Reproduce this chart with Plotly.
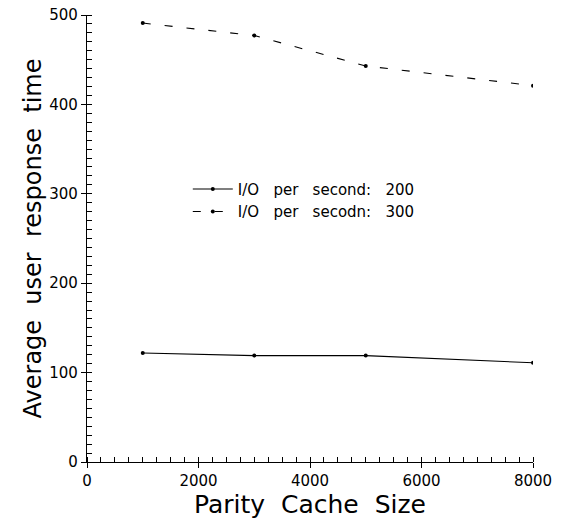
import plotly.graph_objects as go

cache_size = [1000, 3000, 5000, 8000]
io200 = [122, 119, 119, 111]
io300 = [491, 477, 443, 421]
series_names = ["I/O per second: 200", "I/O per secodn: 300"]
x_title = "Parity Cache Size"
y_title = "Average user response time"

S = "\u00a0"
def wide(t, n=2):
    return t.replace(" ", S * n)

fig = go.Figure()
fig.add_trace(go.Scatter(x=cache_size, y=io200, mode="lines+markers", name=wide(series_names[0], 3),
                         line=dict(color="black", width=1.1),
                         marker=dict(size=4, color="black")))
fig.add_trace(go.Scatter(x=cache_size, y=io300, mode="lines+markers", name=wide(series_names[1], 3),
                         line=dict(color="black", width=1.1, dash="8px,14px"),
                         marker=dict(size=4, color="black")))

font = "DejaVu Sans, Verdana, sans-serif"
fig.update_layout(
    width=563, height=520,
    margin=dict(l=87, r=30, t=15, b=58),
    paper_bgcolor="white", plot_bgcolor="white",
    font=dict(family=font, color="black"),
    showlegend=True,
    legend=dict(x=0.226, y=0.647, xanchor="left", yanchor="top",
                bgcolor="rgba(0,0,0,0)", font=dict(size=15, color="black"),
                tracegroupgap=0, itemwidth=40),
    xaxis=dict(range=[0, 8000], tickvals=[0, 2000, 4000, 6000, 8000], automargin=False,
               showgrid=False, zeroline=False, showline=True, linecolor="black", linewidth=1.2,
               ticks="outside", ticklen=5, tickcolor="black",
               minor=dict(dtick=250, ticks="inside", ticklen=5, tickcolor="black", showgrid=False),
               tickfont=dict(size=15, color="black"),
               title=dict(text=wide(x_title), font=dict(size=25, color="black"), standoff=0)),
    yaxis=dict(range=[0, 500], tickvals=[0, 100, 200, 300, 400, 500], automargin=False,
               showgrid=False, zeroline=False, showline=True, linecolor="black", linewidth=1.2,
               ticks="outside", ticklen=5, tickcolor="black",
               minor=dict(dtick=10, ticks="inside", ticklen=5, tickcolor="black", showgrid=False),
               tickfont=dict(size=15, color="black"),
               title=dict(text=wide(y_title), font=dict(size=24, color="black"), standoff=0)),
)
fig.write_html("out.html", config={"displayModeBar": False},
               post_script="document.body.style.margin='0';")
